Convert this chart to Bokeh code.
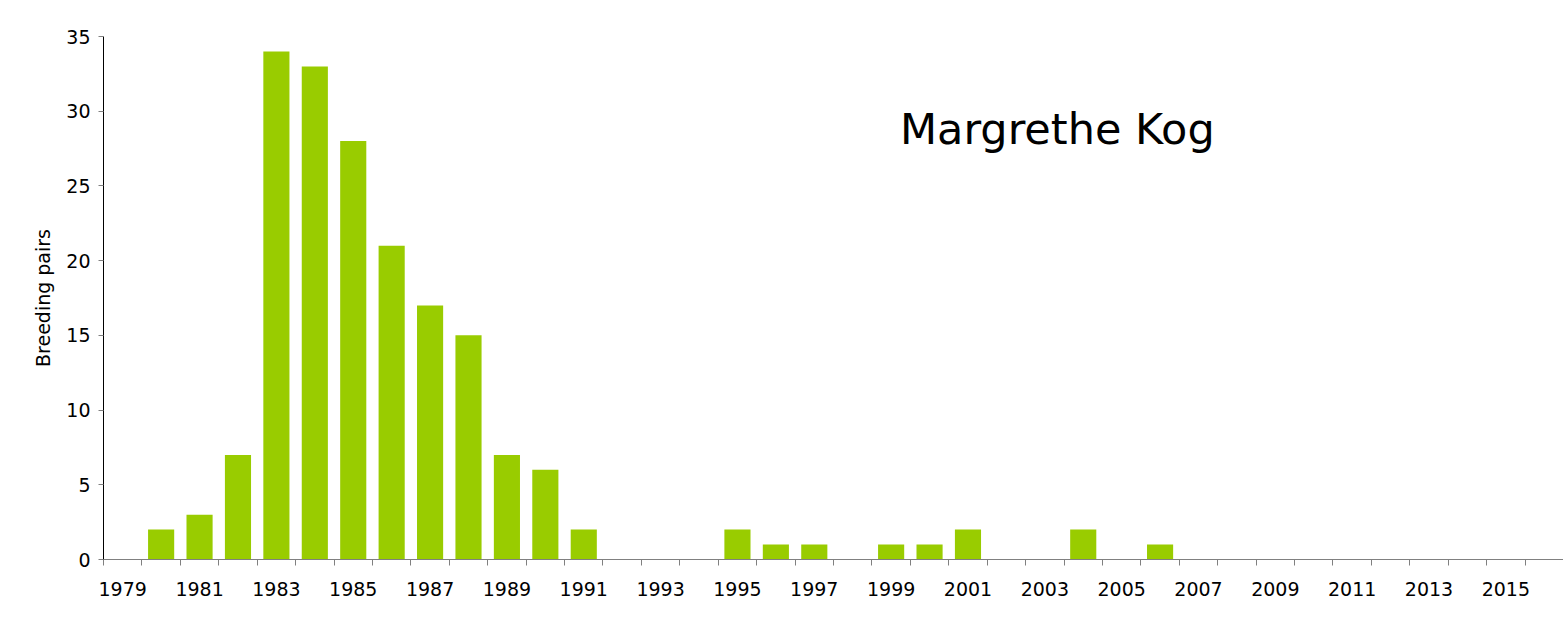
from bokeh.plotting import figure
from bokeh.models import Range1d, FixedTicker, Label
from bokeh.embed import file_html
from bokeh.resources import INLINE

years = list(range(1979, 2017))
pairs = [0, 2, 3, 7, 34, 33, 28, 21, 17, 15, 7, 6, 2, 0, 0, 0, 2, 1, 1, 0,
         1, 1, 2, 0, 0, 2, 0, 1, 0, 0, 0, 0, 0, 0, 0, 0, 0, 0]
label_years = [y for y in years if (y - 1979) % 2 == 0]
y_ticks = [0, 5, 10, 15, 20, 25, 30, 35]
title_text = "Margrethe Kog"
y_label = "Breeding pairs"

FONT = "DejaVu Sans"

p = figure(width=1563, height=619, output_backend="svg", toolbar_location=None,
           x_range=Range1d(years[0] - 0.5, years[-1] + 0.5),
           y_range=Range1d(0, 35),
           min_border_left=103, min_border_right=0, min_border_top=36,
           min_border_bottom=60)

p.vbar(x=years, top=pairs, width=0.68, color="#99CC00", line_color=None)

p.xgrid.visible = False
p.ygrid.visible = False
p.outline_line_color = None
p.background_fill_color = "white"
p.border_fill_color = "white"

xa = p.xaxis[0]
xa.ticker = FixedTicker(ticks=label_years,
                        minor_ticks=[y - 0.5 for y in years] + [years[-1] + 0.5])
xa.major_tick_out = 0
xa.major_tick_in = 0
xa.minor_tick_out = 6
xa.minor_tick_in = 0
xa.minor_tick_line_color = "#808080"
xa.axis_line_color = "#808080"
xa.major_label_standoff = 16
xa.major_label_text_font = FONT
xa.major_label_text_font_size = "19px"
xa.major_label_text_color = "#000000"

ya = p.yaxis[0]
ya.ticker = FixedTicker(ticks=y_ticks)
ya.major_tick_out = 5
ya.major_tick_in = 0
ya.minor_tick_out = 0
ya.minor_tick_in = 0
ya.major_tick_line_color = "#808080"
ya.axis_line_color = "#000000"
ya.major_label_standoff = 8
ya.major_label_text_font = FONT
ya.major_label_text_font_size = "19px"
ya.major_label_text_color = "#000000"
ya.axis_label = y_label
ya.axis_label_text_font = FONT
ya.axis_label_text_font_size = "19px"
ya.axis_label_text_font_style = "normal"
ya.axis_label_text_color = "#000000"
ya.axis_label_standoff = 9

p.add_layout(Label(x=1999.23, y=28.84, text=title_text, text_font=FONT,
                   text_font_size="43px", text_color="#000000",
                   text_baseline="alphabetic"))

open("out.html", "w").write(file_html(p, INLINE))
